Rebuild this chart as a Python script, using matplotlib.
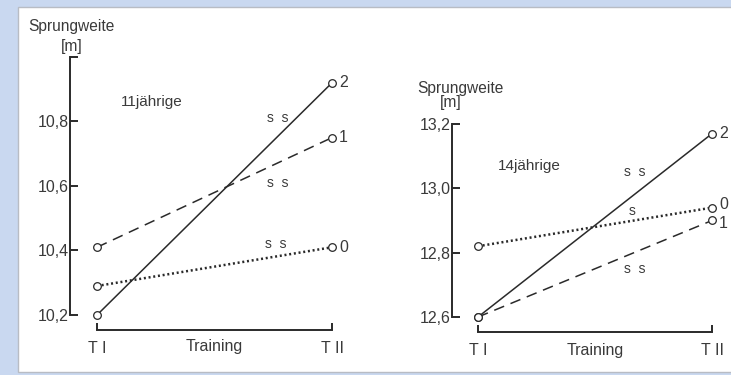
import matplotlib.pyplot as plt
from matplotlib.patches import Rectangle

plt.rcParams['font.family'] = ['Liberation Sans', 'DejaVu Sans']

# Messzeitpunkte
zeitpunkte = [0, 1]
zeit_labels = ['T I', 'T II']

# 11jährige: Sprungweite [m] je Trainingsgruppe (0, 1, 2)
gruppe0_11 = [10.29, 10.41]
gruppe1_11 = [10.41, 10.75]
gruppe2_11 = [10.20, 10.92]
yticks_11 = [10.2, 10.4, 10.6, 10.8, 11.0]
ytick_labels_11 = ['10,2', '10,4', '10,6', '10,8', '']

# 14jährige
gruppe0_14 = [12.82, 12.94]
gruppe1_14 = [12.60, 12.90]
gruppe2_14 = [12.60, 13.17]
yticks_14 = [12.6, 12.8, 13.0, 13.2]
ytick_labels_14 = ['12,6', '12,8', '13,0', '13,2']

W, H = 731, 375
ink = '#2a2a2a'
txt = '#3a3a3a'

fig = plt.figure(figsize=(W / 100, H / 100), dpi=100)
fig.patch.set_facecolor('#c9d8f0')
# weisse Seite hinter den Diagrammen
fig.patches.append(Rectangle((18 / W, 3 / H), 1, 1 - 10 / H, transform=fig.transFigure,
                             facecolor='white', edgecolor='#b8bcc4', linewidth=1.0,
                             zorder=-10))


def px_axes(x0, x1, ytop, ybot):
    return fig.add_axes([x0 / W, 1 - ybot / H, (x1 - x0) / W, (ybot - ytop) / H])


def panel(ax, daten, yticks, ylabels, ylim, y_off, x_off, label_y):
    stile = {'2': ('-', 1.1), '1': ((0, (7, 4.5)), 1.1), '0': ((0, (0.8, 1.1)), 1.8)}
    for name, werte in daten:
        ls, lw = stile[name]
        ax.plot(zeitpunkte, werte, linestyle=ls, color=ink, lw=lw, marker='o', ms=5.5,
                mfc='white', mec=ink, mew=0.9, clip_on=False, dash_capstyle='butt')
    ax.set_xlim(0, 1)
    ax.set_ylim(*ylim)
    ax.patch.set_alpha(0)
    for s in ['top', 'right']:
        ax.spines[s].set_visible(False)
    ax.spines['left'].set_position(('axes', -y_off))
    ax.spines['left'].set_bounds(*ylim)
    ax.spines['bottom'].set_position(('axes', -x_off))
    ax.spines['bottom'].set_bounds(0, 1)
    for s in ['left', 'bottom']:
        ax.spines[s].set_linewidth(1.4)
        ax.spines[s].set_color(ink)
    ax.set_yticks(yticks)
    ax.set_yticklabels(ylabels)
    ax.set_xticks(zeitpunkte)
    ax.set_xticklabels(zeit_labels)
    ax.tick_params(axis='y', direction='in', length=6, width=1.4, color=ink,
                   labelsize=11.5, labelcolor=txt, pad=1)
    ax.tick_params(axis='x', direction='in', length=5, width=1.4, color=ink,
                   labelsize=11.5, labelcolor=txt, pad=8)
    ax.set_xlabel('Training', fontsize=11.5, color=txt, va='center')
    ax.xaxis.set_label_coords(0.5, label_y)


# linkes Diagramm
ax1 = px_axes(97, 332, 57, 315)
panel(ax1, [('2', gruppe2_11), ('1', gruppe1_11), ('0', gruppe0_11)],
      yticks_11, ytick_labels_11, (10.2, 11.0), 27 / 235, 15 / 258, -32 / 258)

# rechtes Diagramm
ax2 = px_axes(478, 712, 124, 317)
panel(ax2, [('2', gruppe2_14), ('1', gruppe1_14), ('0', gruppe0_14)],
      yticks_14, ytick_labels_14, (12.6, 13.2), 26 / 234, 15 / 193, -34 / 193)

# Gruppenbezeichnungen am Ende der Linien
for ax, reihen in [(ax1, [('2', gruppe2_11, 0), ('1', gruppe1_11, 0), ('0', gruppe0_11, 0)]),
                   (ax2, [('2', gruppe2_14, 0), ('0', gruppe0_14, 2), ('1', gruppe1_14, -2)])]:
    for name, werte, dy in reihen:
        ax.annotate(name, (1, werte[1]), xytext=(5, dy), textcoords='offset points',
                    fontsize=11.5, color=txt, va='center', ha='left', annotation_clip=False)

# Signifikanzangaben
for ax, x, y, s in [(ax1, 0.77, 10.81, 's  s'), (ax1, 0.77, 10.61, 's  s'), (ax1, 0.76, 10.42, 's  s'),
                    (ax2, 0.67, 13.05, 's  s'), (ax2, 0.66, 12.93, 's'), (ax2, 0.67, 12.75, 's  s')]:
    ax.text(x, y, s, fontsize=10, color=txt, ha='center', va='center')

ax1.text(0.234, 10.86, '11jährige', fontsize=11, color=txt, ha='center', va='center')
ax2.text(0.22, 13.07, '14jährige', fontsize=11, color=txt, ha='center', va='center')

# Achsentitel
for x, y, s, ha in [(28, 27, 'Sprungweite', 'left'), (72, 47, '[m]', 'center'),
                    (417, 88, 'Sprungweite', 'left'), (451, 103, '[m]', 'center')]:
    fig.text(x / W, 1 - y / H, s, fontsize=11.2, color=txt, ha=ha, va='center')

fig.savefig('out.png', dpi=100, facecolor=fig.get_facecolor())
